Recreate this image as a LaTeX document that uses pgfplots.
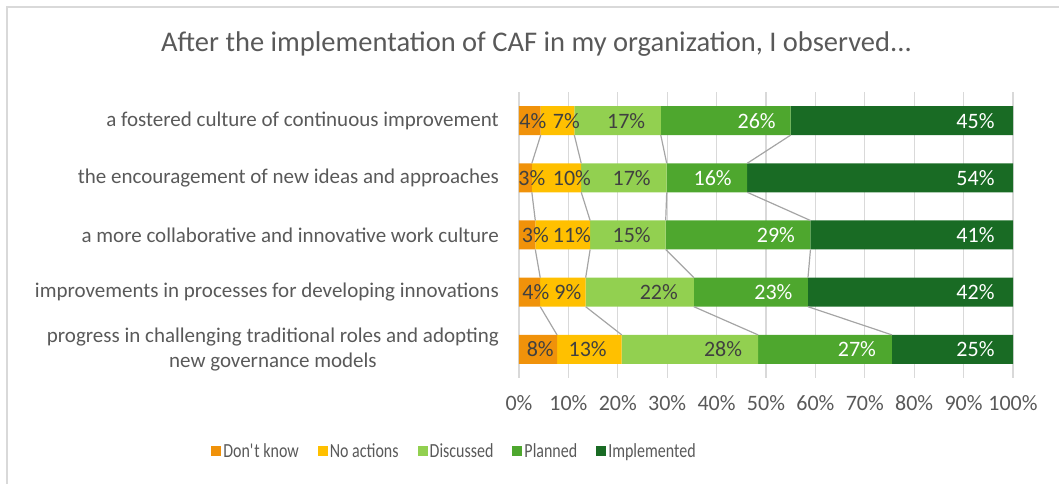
\documentclass[border=0pt]{standalone}
\usepackage{pgfplots}
\pgfplotsset{compat=1.18}
\usepackage{fontspec}
\setmainfont{Carlito}
\newfontfamily\narrowfont{Carlito}[FakeStretch=0.8]

\definecolor{dk}{HTML}{F0920A}
\definecolor{na}{HTML}{FFC000}
\definecolor{disc}{HTML}{92D050}
\definecolor{plan}{HTML}{4EA72E}
\definecolor{impl}{HTML}{196B24}
\definecolor{txt}{HTML}{595959}
\definecolor{lbl}{HTML}{404040}
\definecolor{grd}{HTML}{D9D9D9}
\definecolor{serl}{HTML}{A5A5A5}

\newcommand{\lblfont}{\fontsize{21}{25}\selectfont}
\newcommand{\tickfont}{\fontsize{22}{26}\selectfont}
\newcommand{\datafont}{\fontsize{22}{26}\selectfont}
\newcommand{\legfont}{\narrowfont\fontsize{20}{24}\selectfont}

\pgfplotsset{
  base/.style={width=494pt, height=286pt, scale only axis,
    at={(0pt,0pt)}, anchor=south west,
    xmin=0, xmax=100, ymin=0.5, ymax=5.5},
  sq/.style={legend image code/.code={\fill[##1] (0pt,-5pt) rectangle (10pt,5pt);}},
}

\begin{document}
\begin{tikzpicture}
\path[use as bounding box] (-519pt,-106pt) rectangle (540pt,378pt);
\draw[grd, line width=1.5pt] (-512pt,-106pt) -- (-512pt,371pt) -- (540pt,371pt);

\begin{axis}[base,
  xbar stacked, bar width=29pt,
  axis line style={draw=none},
  xmajorgrids, major grid style={grd, line width=1.3pt},
  tick style={draw=none},
  xtick={0,10,...,100},
  xticklabels={0\%,10\%,20\%,30\%,40\%,50\%,60\%,70\%,80\%,90\%,100\%},
  xticklabel style={font=\tickfont, text=txt, inner sep=0pt},
  xticklabel shift=17pt,
  ytick={1,2,3,4,5},
  yticklabels={{progress in challenging traditional roles and adopting\\new governance models},
    {improvements in processes for developing innovations},
    {a more collaborative and innovative work culture},
    {the encouragement of new ideas and approaches},
    {a fostered culture of continuous improvement}},
  yticklabel style={align=center, font=\lblfont, text=txt, inner sep=0pt},
  yticklabel shift=20pt,
  title={After the implementation of CAF in my organization, I observed...},
  title style={at={(0.0354,1.148)}, anchor=center, font=\fontsize{28.5}{32}\selectfont, text=txt},
  legend columns=-1,
  legend style={at={(-0.1306,-0.255)}, anchor=center, draw=none, fill=none,
    font=\legfont, text=txt,
    /tikz/every even column/.append style={column sep=17pt}},
]
% rows: 1 = bottom (progress ...), 5 = top (fostered culture ...)
\addplot[fill=dk, draw=none, sq] coordinates {(7.7,1) (4.3,2) (3.3,3) (2.6,4) (4.4,5)};
\addplot[fill=na, draw=none, sq] coordinates {(13.1,1) (9.2,2) (11.1,3) (10.0,4) (6.8,5)};
\addplot[fill=disc, draw=none, sq] coordinates {(27.6,1) (21.9,2) (15.3,3) (17.3,4) (17.5,5)};
\addplot[fill=plan, draw=none, sq] coordinates {(27.1,1) (23.1,2) (29.3,3) (16.3,4) (26.3,5)};
\addplot[fill=impl, draw=none, sq] coordinates {(24.5,1) (41.5,2) (41.0,3) (53.8,4) (45.0,5)};
\legend{Don\textquotesingle t know, No actions, Discussed, Planned, Implemented}
\end{axis}

\begin{axis}[base, hide axis, unbounded coords=jump]
% series lines between bar edges
\addplot[serl, line width=1.2pt] coordinates {(4.4,4.7465) (2.6,4.2535) (nan,nan) (2.6,3.7465) (3.3,3.2535) (nan,nan) (3.3,2.7465) (4.3,2.2535) (nan,nan) (4.3,1.7465) (7.7,1.2535)};
\addplot[serl, line width=1.2pt] coordinates {(11.2,4.7465) (12.6,4.2535) (nan,nan) (12.6,3.7465) (14.4,3.2535) (nan,nan) (14.4,2.7465) (13.5,2.2535) (nan,nan) (13.5,1.7465) (20.8,1.2535)};
\addplot[serl, line width=1.2pt] coordinates {(28.7,4.7465) (29.9,4.2535) (nan,nan) (29.9,3.7465) (29.7,3.2535) (nan,nan) (29.7,2.7465) (35.4,2.2535) (nan,nan) (35.4,1.7465) (48.4,1.2535)};
\addplot[serl, line width=1.2pt] coordinates {(55.0,4.7465) (46.2,4.2535) (nan,nan) (46.2,3.7465) (59.0,3.2535) (nan,nan) (59.0,2.7465) (58.5,2.2535) (nan,nan) (58.5,1.7465) (75.5,1.2535)};
% data labels
\addplot[draw=none, mark=none, nodes near coords, point meta=explicit symbolic,
  nodes near coords align=center,
  nodes near coords style={font=\datafont, text=lbl, inner sep=0pt}] coordinates {
  (2.8,5) [4\%] (9.6,5) [7\%] (21.7,5) [17\%]
  (2.6,4) [3\%] (10.7,4) [10\%] (22.8,4) [17\%]
  (3.3,3) [3\%] (10.7,3) [11\%] (22.8,3) [15\%]
  (3.4,2) [4\%] (9.9,2) [9\%] (28.3,2) [22\%]
  (4.3,1) [8\%] (13.9,1) [13\%] (41.3,1) [28\%]};
\addplot[draw=none, mark=none, nodes near coords, point meta=explicit symbolic,
  nodes near coords align=center,
  nodes near coords style={font=\datafont, text=white, inner sep=0pt}] coordinates {
  (48.1,5) [26\%] (92.4,5) [45\%]
  (39.2,4) [16\%] (92.4,4) [54\%]
  (52.0,3) [29\%] (92.4,3) [41\%]
  (51.5,2) [23\%] (92.4,2) [42\%]
  (68.4,1) [27\%] (92.4,1) [25\%]};
\end{axis}
\end{tikzpicture}
\end{document}
